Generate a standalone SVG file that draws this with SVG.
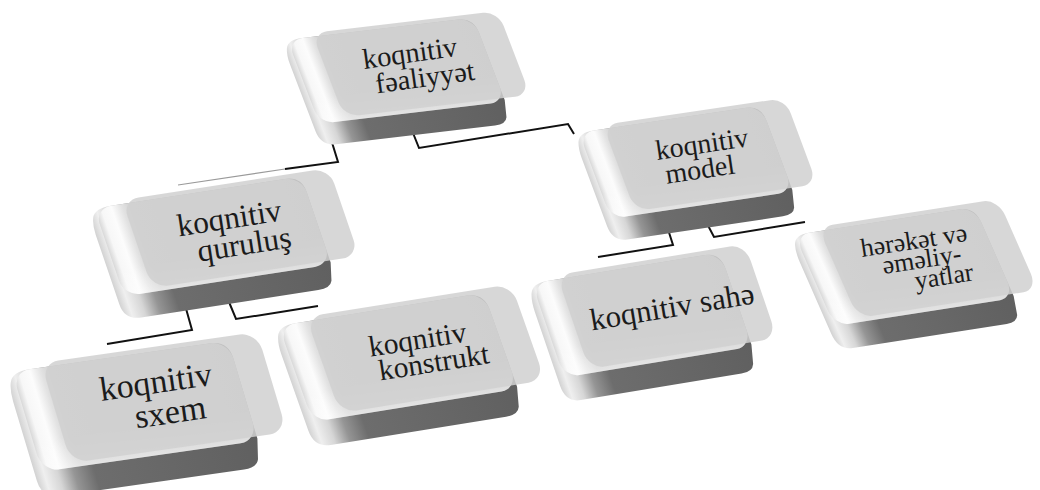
<svg xmlns="http://www.w3.org/2000/svg" xmlns:xlink="http://www.w3.org/1999/xlink" width="1040" height="490" viewBox="0 0 1040 490">
  <style>
    .wire { fill: none; stroke: #111; stroke-width: 2; stroke-linejoin: miter; }
    .wire-faint { fill: none; stroke: #9a9a9a; stroke-width: 1.2; }
    .lbl { font-family: "Liberation Serif", "DejaVu Serif", serif; fill: #1b1b1b; text-anchor: middle; }
  </style>
  <defs>
    <!-- key geometry, local frame: face = 200 x 90 -->
    <linearGradient id="gBody" gradientUnits="userSpaceOnUse" x1="-35" y1="0" x2="172" y2="0">
      <stop offset="0" stop-color="#d2d2d2"/>
      <stop offset="0.04" stop-color="#efefef"/>
      <stop offset="0.1" stop-color="#d6d6d6"/>
      <stop offset="0.17" stop-color="#959595"/>
      <stop offset="0.26" stop-color="#6d6d6d"/>
      <stop offset="1" stop-color="#606060"/>
    </linearGradient>
    <linearGradient id="gTop" gradientUnits="userSpaceOnUse" x1="-28" y1="0" x2="172" y2="0">
      <stop offset="0" stop-color="#d8d8d8"/>
      <stop offset="0.03" stop-color="#f7f7f7"/>
      <stop offset="0.08" stop-color="#fcfcfc"/>
      <stop offset="0.13" stop-color="#e2e2e2"/>
      <stop offset="0.18" stop-color="#d0d0d0"/>
      <stop offset="1" stop-color="#c8c8c8"/>
    </linearGradient>
    <linearGradient id="gTopShade" gradientUnits="userSpaceOnUse" x1="0" y1="4" x2="0" y2="94">
      <stop offset="0" stop-color="#ffffff" stop-opacity="0"/>
      <stop offset="0.7" stop-color="#ffffff" stop-opacity="0"/>
      <stop offset="1" stop-color="#ffffff" stop-opacity="0.45"/>
    </linearGradient>
    <path id="keyBody" fill="url(#gBody)" d="M -12 4 H 156 Q 172 4 172 20 V 92 L 167 110 Q 164 117 152 117 H -19 Q -35 117 -35 101 V 30 Q -35 20 -32 13 Q -28 4 -12 4 Z"/>
    <rect id="keyTop" x="-28" y="4" width="200" height="90" rx="16" fill="url(#gTop)"/>
    <rect id="keyTopShade" x="-28" y="4" width="200" height="90" rx="16" fill="url(#gTopShade)"/>
    <rect id="keyFace" x="0" y="0" width="200" height="90" rx="16" fill="#d0d0d0" fill-opacity="0.86"/>
    <g id="key">
      <use xlink:href="#keyBody"/>
      <use xlink:href="#keyTop"/>
      <use xlink:href="#keyTopShade"/>
      <use xlink:href="#keyFace"/>
    </g>
  </defs>

  <rect width="1040" height="490" fill="#ffffff"/>

  <!-- connectors -->
  <g id="connectors">
    <polyline class="wire" points="330,136 338,162 285,169"/>
    <line class="wire-faint" x1="285" y1="169" x2="178" y2="185"/>
    <polyline class="wire" points="411,128 419,148 568,124 574,134"/>
    <polyline class="wire" points="185,305 192,330 107,344"/>
    <polyline class="wire" points="229,302 236,319 318,306"/>
    <polyline class="wire" points="665,220 673,245 598,257"/>
    <polyline class="wire" points="703,216 714,237 805,222"/>
  </g>

  <!-- top row -->
  <g id="node-faaliyyet">
    <use xlink:href="#key" transform="matrix(0.93 -0.11 0.356 0.933 312 33)"/>
    <text class="lbl" font-size="28.5" transform="translate(421 64) rotate(-8)">
      <tspan x="-6" y="-3">koqnitiv</tspan>
      <tspan x="2" y="23">fəaliyyət</tspan>
    </text>
  </g>

  <g id="node-model">
    <use xlink:href="#key" transform="matrix(0.91 -0.135 0.356 0.956 603 125)"/>
    <text class="lbl" font-size="28" transform="translate(710 155) rotate(-8.5)">
      <tspan x="-3" y="-3">koqnitiv</tspan>
      <tspan x="-12" y="22">model</tspan>
    </text>
  </g>

  <!-- middle row -->
  <g id="node-qurulus">
    <use xlink:href="#key" transform="matrix(1.035 -0.16 0.333 0.978 122 200)"/>
    <text class="lbl" font-size="31.5" transform="translate(240 230) rotate(-8.8)">
      <tspan x="-5" y="-3">koqnitiv</tspan>
      <tspan x="2" y="25">quruluş</tspan>
    </text>
  </g>

  <g id="node-hereket">
    <use xlink:href="#key" transform="matrix(0.9 -0.14 0.444 1.011 818 227)"/>
    <text class="lbl" font-size="26" transform="translate(928 259) rotate(-8.8)">
      <tspan x="-8" y="-12">hərəkət və</tspan>
      <tspan x="-3" y="8">əməliy-</tspan>
      <tspan x="13" y="28">yatlar</tspan>
    </text>
  </g>

  <!-- bottom row -->
  <g id="node-sahe">
    <use xlink:href="#key" transform="matrix(0.94 -0.155 0.356 1.044 557 275)"/>
    <text class="lbl" font-size="31" transform="translate(672 307) rotate(-9.4)">
      <tspan x="0" y="10">koqnitiv sahə</tspan>
    </text>
  </g>

  <g id="node-konstrukt">
    <use xlink:href="#key" transform="matrix(1.025 -0.165 0.378 1.067 306 317)"/>
    <text class="lbl" font-size="29.5" transform="translate(426 351) rotate(-9)">
      <tspan x="-3" y="-3">koqnitiv</tspan>
      <tspan x="6" y="22">konstrukt</tspan>
    </text>
  </g>

  <g id="node-sxem">
    <use xlink:href="#key" transform="matrix(1.08 -0.155 0.333 1.111 41 363)"/>
    <text class="lbl" font-size="34" transform="translate(164 396) rotate(-8.2)">
      <tspan x="-2" y="-4">koqnitiv</tspan>
      <tspan x="4" y="28">sxem</tspan>
    </text>
  </g>
</svg>
